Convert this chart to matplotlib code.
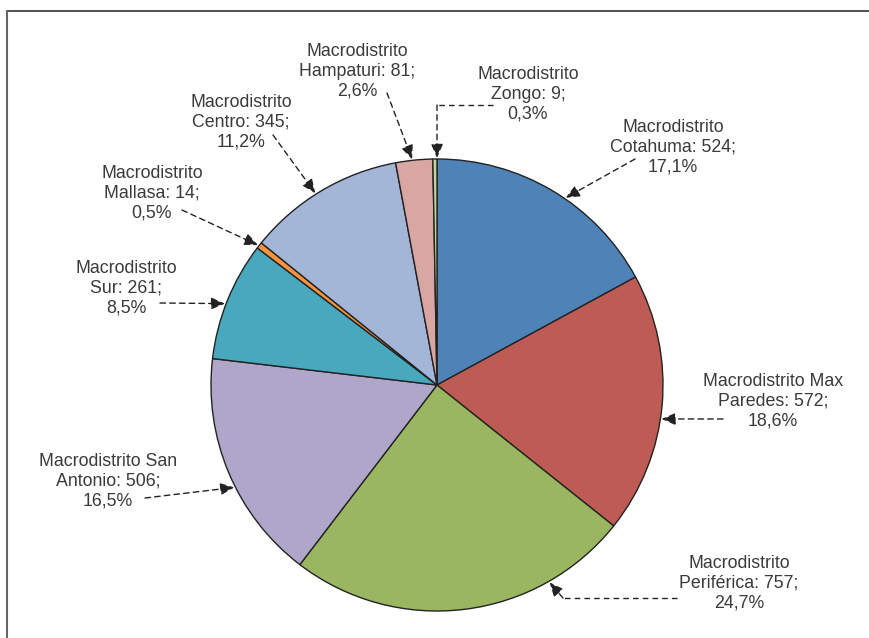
import numpy as np
import matplotlib
matplotlib.use('Agg')
import matplotlib.pyplot as plt
from matplotlib.lines import Line2D

# data: counts per macrodistrito, clockwise from the top
labels = ['Cotahuma', 'Max Paredes', 'Periférica', 'San Antonio', 'Sur',
          'Mallasa', 'Centro', 'Hampaturi', 'Zongo']
values = [524, 572, 757, 506, 261, 14, 345, 81, 9]
pcts = ['17,1%', '18,6%', '24,7%', '16,5%', '8,5%', '0,5%', '11,2%', '2,6%', '0,3%']
colors = ['#4F82B6', '#BE5B54', '#9AB660', '#B0A6CA', '#48A8BE',
          '#F7923F', '#A3B6D7', '#D8A6A3', '#C2D59A']

# label texts (line breaks as in the original)
texts = [
    'Macrodistrito\nCotahuma: 524;\n17,1%',
    'Macrodistrito Max\nParedes: 572;\n18,6%',
    'Macrodistrito\nPeriférica: 757;\n24,7%',
    'Macrodistrito San\nAntonio: 506;\n16,5%',
    'Macrodistrito\nSur: 261;\n8,5%',
    'Macrodistrito\nMallasa: 14;\n0,5%',
    'Macrodistrito\nCentro: 345;\n11,2%',
    'Macrodistrito\nHampaturi: 81;\n2,6%',
    'Macrodistrito\nZongo: 9;\n0,3%',
]

W, H = 869, 638
CX, CY, R = 437, 385, 226

def px(x, y):
    # pixel position -> data coords (pie of radius 1 at origin)
    return ((x - CX) / R, (CY - y) / R)

# layout: text centre, arrow start, optional elbow, tip angle (deg)
text_pos = [(673, 147), (773, 401), (739, 583), (108, 481), (126, 288),
            (152, 193), (241, 122), (357, 71), (528, 94)]
arrow_from = [(635, 159), (723, 419), (677, 598), (145, 498), (160, 303),
              (182, 210), (273, 135), (387, 93), (493, 105)]
arrow_elbow = [None, None, (563, 598), None, None, None, None, None, (437, 105)]
tip_angle = [55.5, -8.6, -60.3, 206.8, 159.0, 142.0, 122.4, 96.3, 90.0]

fig = plt.figure(figsize=(W / 100, H / 100), dpi=100)
ax = fig.add_axes([0, 0, 1, 1])

ax.pie(values, colors=colors, startangle=90, counterclock=False, radius=1,
       wedgeprops=dict(edgecolor='#222222', linewidth=1.0))
ax.set_xlim(-CX / R, (W - CX) / R)
ax.set_ylim(-(H - CY) / R, CY / R)
ax.axis('off')

txtcol = '#3a3a3a'
for i in range(len(values)):
    tx, ty = px(*text_pos[i])
    ax.text(tx, ty, texts[i], ha='center', va='center', fontsize=12.8,
            color=txtcol, family='Liberation Sans', linespacing=1.2)
    a = np.deg2rad(tip_angle[i])
    tip = (1.005 * np.cos(a), 1.005 * np.sin(a))
    start = px(*arrow_from[i])
    if arrow_elbow[i] is not None:
        el = px(*arrow_elbow[i])
        ax.plot([start[0], el[0]], [start[1], el[1]], color='#222222',
                lw=1.0, ls=(0, (4, 3)))
        start = el
    ax.annotate('', xy=tip, xytext=start,
                arrowprops=dict(arrowstyle='-|>,head_length=0.6,head_width=0.26',
                                color='#222222', lw=1.0,
                                ls=(0, (4, 3)), mutation_scale=14,
                                shrinkA=0, shrinkB=0))

# frame lines (top and left only)
fig.add_artist(Line2D([7 / W, 1], [1 - 11 / H, 1 - 11 / H],
                      transform=fig.transFigure, color='#333333', lw=1.2))
fig.add_artist(Line2D([7 / W, 7 / W], [0, 1 - 11 / H],
                      transform=fig.transFigure, color='#666666', lw=1.5))

fig.savefig('out.png', dpi=100)
